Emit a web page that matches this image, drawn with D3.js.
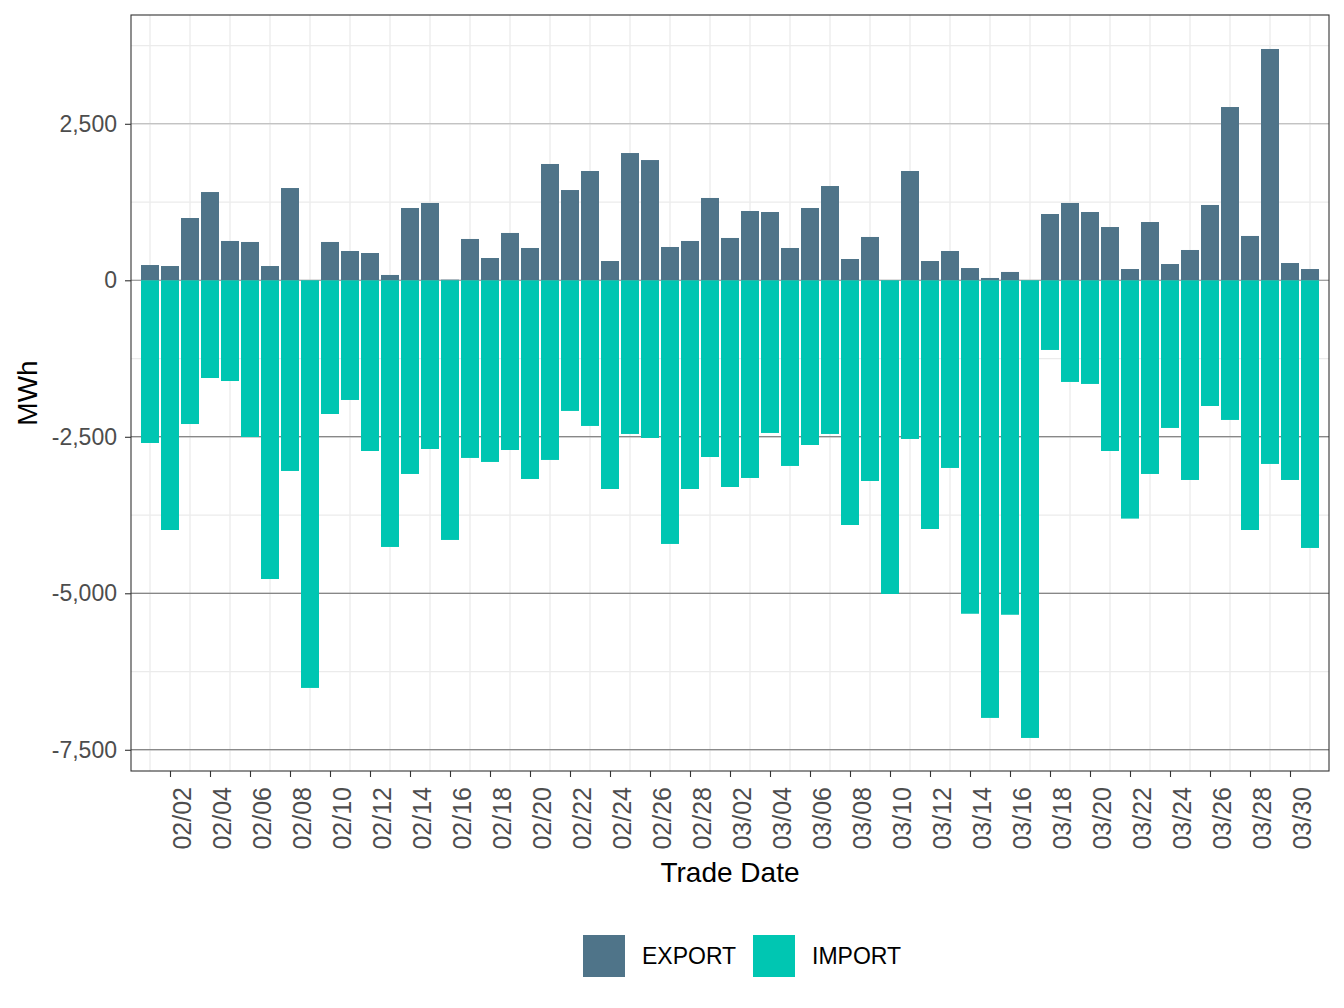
<!DOCTYPE html>
<html>
<head>
<meta charset="utf-8">
<script src="https://cdn.jsdelivr.net/npm/d3@7"></script>
<style>
  body { margin: 0; background: #fff; }
  text { font-family: "Liberation Sans", Arial, Helvetica, sans-serif; }
</style>
</head>
<body>
<div id="chart"></div>
<script>
// trade dates (2023)
const dates = [
  "02/01","02/02","02/03","02/04","02/05","02/06","02/07","02/08","02/09","02/10",
  "02/11","02/12","02/13","02/14","02/15","02/16","02/17","02/18","02/19","02/20",
  "02/21","02/22","02/23","02/24","02/25","02/26","02/27","02/28",
  "03/01","03/02","03/03","03/04","03/05","03/06","03/07","03/08","03/09","03/10",
  "03/11","03/12","03/13","03/14","03/15","03/16","03/17","03/18","03/19","03/20",
  "03/21","03/22","03/23","03/24","03/25","03/26","03/27","03/28","03/29","03/30","03/31"
];

const exportMWh = [
  244, 228, 995, 1410, 628, 612, 228, 1474, 0, 612,
  468, 436, 85, 1155, 1235, 10, 660, 356, 756, 516,
  1858, 1442, 1746, 308, 2033, 1921, 532, 628,
  1315, 676, 1107, 1091, 516, 1155, 1506, 340, 692, 0,
  1746, 308, 468, 196, 37, 133, 0, 1059, 1235, 1091,
  851, 180, 931, 260, 484, 1203, 2768, 708, 3695, 276, 180
];

const importMWh = [
  -2599, -3989, -2296, -1561, -1609, -2503, -4772, -3046, -6512, -2136,
  -1912, -2727, -4260, -3094, -2695, -4148, -2838, -2902, -2711, -3174,
  -2870, -2087, -2327, -3334, -2455, -2519, -4212, -3334,
  -2823, -3302, -3158, -2439, -2966, -2631, -2455, -3909, -3206, -5011,
  -2535, -3973, -2998, -5327, -6991, -5343, -7311, -1113, -1624, -1656,
  -2727, -3807, -3094, -2359, -3190, -2008, -2231, -3989, -2934, -3190, -4276
];

const seriesNames = ["EXPORT", "IMPORT"];
const seriesColors = ["#4f7489", "#00c6b2"];

const yTicks = [2500, 0, -2500, -5000, -7500];
const yMinor = [3750, 1250, -1250, -3750, -6250];
const xTickLabels = ["02/02","02/04","02/06","02/08","02/10","02/12","02/14","02/16","02/18","02/20",
  "02/22","02/24","02/26","02/28","03/02","03/04","03/06","03/08","03/10","03/12","03/14","03/16",
  "03/18","03/20","03/22","03/24","03/26","03/28","03/30"];

const W = 1344, H = 1008;
const panel = { left: 131, right: 1329, top: 15, bottom: 771 };

const parse = s => d3.timeParse("%Y/%m/%d")("2023/" + s);
const dayMs = 864e5;
const t0 = parse(dates[0]), t1 = parse(dates[dates.length - 1]);

const x = d3.scaleTime()
  .domain([new Date(+t0 - 0.95 * dayMs), new Date(+t1 + 0.95 * dayMs)])
  .range([panel.left, panel.right]);
const y = d3.scaleLinear().domain([-7839, 4238]).range([panel.bottom, panel.top]);
const barW = x(new Date(+t0 + 0.9 * dayMs)) - x(t0);

const svg = d3.select("#chart").append("svg").attr("width", W).attr("height", H);

// grid
const grid = svg.append("g");
grid.selectAll("line.ymin").data(yMinor.concat(yTicks)).join("line")
  .attr("x1", panel.left).attr("x2", panel.right)
  .attr("y1", d => y(d)).attr("y2", d => y(d))
  .attr("stroke", "#ebebeb").attr("stroke-width", 1.3);
// vertical minor lines on odd days
const minorDates = dates.filter((d, i) => i % 2 === 0).map(parse);
grid.selectAll("line.xmin").data(minorDates).join("line")
  .attr("x1", d => x(d)).attr("x2", d => x(d))
  .attr("y1", panel.top).attr("y2", panel.bottom)
  .attr("stroke", "#ebebeb").attr("stroke-width", 1.3);
// reference lines
const refColor = d => d > 0 ? "#b5b5b5" : d === 0 ? "#8a8a8a" : "#666666";
grid.selectAll("line.ref").data(yTicks).join("line")
  .attr("x1", panel.left).attr("x2", panel.right)
  .attr("y1", d => y(d)).attr("y2", d => y(d))
  .attr("stroke", refColor).attr("stroke-width", 1.1);

// bars
const rows = dates.map((d, i) => ({ date: parse(d), exp: exportMWh[i], imp: importMWh[i] }));
svg.append("g").selectAll("rect").data(rows).join("rect")
  .attr("x", d => x(d.date) - barW / 2).attr("width", barW)
  .attr("y", d => y(d.exp)).attr("height", d => y(0) - y(d.exp))
  .attr("fill", seriesColors[0]);
svg.append("g").selectAll("rect").data(rows).join("rect")
  .attr("x", d => x(d.date) - barW / 2).attr("width", barW)
  .attr("y", y(0)).attr("height", d => y(d.imp) - y(0))
  .attr("fill", seriesColors[1]);

// panel border
svg.append("rect")
  .attr("x", panel.left).attr("y", panel.top)
  .attr("width", panel.right - panel.left).attr("height", panel.bottom - panel.top)
  .attr("fill", "none").attr("stroke", "#333").attr("stroke-width", 1.1);

// y axis
const yAxis = svg.append("g").attr("transform", `translate(${panel.left},0)`)
  .call(d3.axisLeft(y).tickValues(yTicks).tickSize(6).tickPadding(8).tickFormat(d3.format(",")));
yAxis.select(".domain").remove();
yAxis.selectAll(".tick line").attr("stroke", "#333").attr("stroke-width", 1.1);
yAxis.selectAll(".tick text").attr("fill", "#4d4d4d").style("font-size", "23px")
  .text(d => d < 0 ? "-" + d3.format(",")(-d) : d3.format(",")(d));

// x axis
const xAxis = svg.append("g").attr("transform", `translate(0,${panel.bottom})`)
  .call(d3.axisBottom(x).tickValues(xTickLabels.map(parse)).tickSize(6)
    .tickFormat(d3.timeFormat("%m/%d")));
xAxis.select(".domain").remove();
xAxis.selectAll(".tick line").attr("stroke", "#333").attr("stroke-width", 1.1);
xAxis.selectAll(".tick text")
  .attr("fill", "#4d4d4d").style("font-size", "25px")
  .attr("transform", "rotate(-90)")
  .attr("text-anchor", "end")
  .attr("x", -16).attr("y", 20.5).attr("dy", 0);

// axis titles
svg.append("text")
  .attr("x", (panel.left + panel.right) / 2).attr("y", 882)
  .attr("text-anchor", "middle").style("font-size", "28px").attr("fill", "#000")
  .text("Trade Date");
svg.append("text")
  .attr("transform", `translate(37,${(panel.top + panel.bottom) / 2}) rotate(-90)`)
  .attr("text-anchor", "middle").style("font-size", "28px").attr("fill", "#000")
  .text("MWh");

// legend
const legendX = [583, 753];
const legend = svg.append("g");
seriesNames.forEach((name, i) => {
  legend.append("rect").attr("x", legendX[i]).attr("y", 935)
    .attr("width", 42).attr("height", 42).attr("fill", seriesColors[i]);
  legend.append("text").attr("x", legendX[i] + 59).attr("y", 964)
    .style("font-size", "23px").attr("fill", "#000").text(name);
});
</script>
</body>
</html>
